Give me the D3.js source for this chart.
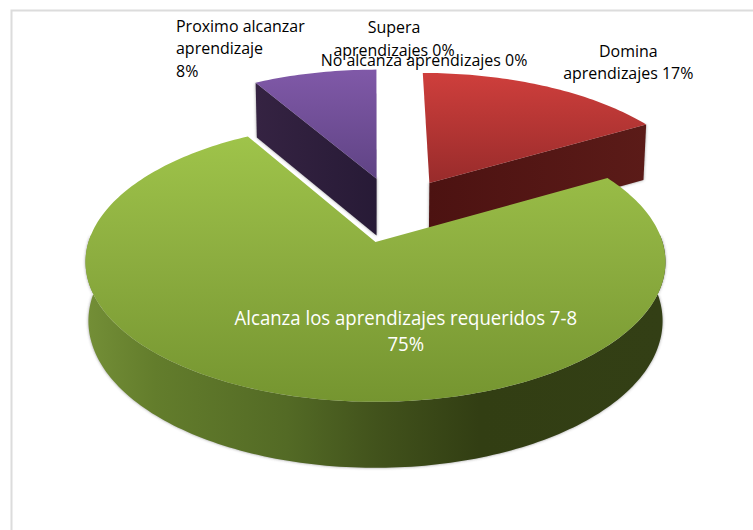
<!DOCTYPE html>
<html><head><meta charset="utf-8">
<script src="https://cdn.jsdelivr.net/npm/d3@7"></script>
<style>html,body{margin:0;padding:0;background:#fff}svg{display:block}</style>
</head><body><div id="chart"></div>
<script>
const categories = ["Domina aprendizajes","Alcanza los aprendizajes requeridos 7-8","Proximo alcanzar aprendizaje","Supera aprendizajes","No alcanza aprendizajes"];
const values = [16.67, 75, 8.33, 0, 0];

const W = 753, H = 530;
const svg = d3.select("#chart").append("svg").attr("width", W).attr("height", H);
const defs = svg.append("defs");

function grad(id, x1, y1, x2, y2, stops){
  const g = defs.append("linearGradient").attr("id", id).attr("gradientUnits","userSpaceOnUse")
    .attr("x1",x1).attr("y1",y1).attr("x2",x2).attr("y2",y2);
  stops.forEach(s => g.append("stop").attr("offset",s[0]).attr("stop-color",s[1]));
}
grad("gTop",0,134,0,402,[[0,"#9fc44a"],[0.45,"#8dae40"],[1,"#759530"]]);
grad("gSide",85,0,664,0,[[0,"#748f37"],[0.12,"#637d2c"],[0.35,"#536a25"],[0.5,"#42531c"],[0.68,"#323e13"],[1,"#333f15"]]);
grad("rTop",0,72,0,190,[[0,"#cf3f3c"],[1,"#952a2a"]]);
grad("rSide",427,0,647,0,[[0,"#4c1211"],[1,"#5b1b18"]]);
grad("pTop",0,69,0,180,[[0,"#8059a8"],[1,"#5f4384"]]);
grad("pSide",255,0,377,0,[[0,"#352342"],[1,"#271a36"]]);
defs.append("filter").attr("id","blur").attr("x","-10%").attr("y","-10%").attr("width","120%").attr("height","120%")
  .append("feGaussianBlur").attr("stdDeviation",1.6);

// frame
svg.append("path").attr("d",`M11.5 ${H}V10.5H${W}`).attr("fill","none").attr("stroke","#dcdcdc").attr("stroke-width",2);

// perspective projection of a unit pie lying on its side
const cx = 375.5, cy = 242, R = 287, B = 137, k = 1/7;
const xS = d3.scaleLinear().domain([-1,1]).range([cx-R,cx+R]);
const yS = d3.scaleLinear().domain([-1,1]).range([cy+B,cy-B]);
function projTop(u,v){ const w=1+k*v; return [xS(u/w), yS(v/w)]; }
function projBottom(u,v){
  const w=1+k*v, Y=yS(v/w)-cy, X=xS(u/w)-cx;
  return [cx+X*0.99, cy+58+Y*(Y>0?1.05:1.02)];
}
const line = d3.line();

const pie = d3.pie().sort(null).value(d=>d)(values);
// per-slice explosion (in pie units) – chart styling
const explode = [
  {u:0.2,v:0.458,su:1.01,sv:1.04},
  {u:0,v:0,su:1,sv:1},
  {u:0.004,v:0.494,su:1.01,sv:1.04}
];
const sliceStyle = [
  {top:"url(#rTop)",side:"url(#rSide)"},
  {top:"url(#gTop)",side:"url(#gSide)"},
  {top:"url(#pTop)",side:"url(#pSide)"}
];
function pt(i,a,r){ const e=explode[i]; return [e.u+e.su*r*Math.sin(a), e.v+e.sv*r*Math.cos(a)]; }
function arcPts(i,a0,a1,proj){
  const n=Math.max(2,Math.ceil((a1-a0)/0.02));
  return d3.range(n+1).map(j=>{ const a=a0+(a1-a0)*j/n, p=pt(i,a,1); return proj(p[0],p[1]); });
}
function topPath(i){
  const d=pie[i]; const ap=pt(i,0,0);
  return line([projTop(ap[0],ap[1]),...arcPts(i,d.startAngle,d.endAngle,projTop)])+"Z";
}
function radialFace(i,a){
  const ap=pt(i,0,0), p=pt(i,a,1);
  return line([projTop(ap[0],ap[1]),projTop(p[0],p[1]),projBottom(p[0],p[1]),projBottom(ap[0],ap[1])])+"Z";
}
function rimPath(i,a0,a1){
  return line([...arcPts(i,a0,a1,projTop),...arcPts(i,a0,a1,projBottom).reverse()])+"Z";
}
const g = svg.append("g");

const shadow = (sel,d)=>sel.append("path").attr("d",d).attr("fill","#555").attr("opacity",.6).attr("filter","url(#blur)");

// Red (0)
shadow(g, radialFace(0,pie[0].endAngle));
g.append("path").attr("d",radialFace(0,pie[0].endAngle)).attr("fill",sliceStyle[0].side);
g.append("path").attr("d",topPath(0)).attr("fill",sliceStyle[0].top);

// Purple (2)
shadow(g, radialFace(2,pie[2].endAngle));
shadow(g, radialFace(2,pie[2].startAngle));
g.append("path").attr("d",radialFace(2,pie[2].endAngle)).attr("fill",sliceStyle[2].side);
g.append("path").attr("d",radialFace(2,pie[2].startAngle)).attr("fill",sliceStyle[2].side);
g.append("path").attr("d",topPath(2)).attr("fill",sliceStyle[2].top);

// Green (1)
const rimD = rimPath(1,Math.PI/2-0.05,Math.PI*1.5+0.05);
shadow(g, rimD);
g.append("path").attr("d",rimD).attr("fill",sliceStyle[1].side);
g.append("path").attr("d",topPath(1)).attr("fill",sliceStyle[1].top);

// labels
const pct = v => Math.round(v)+"%";
const labels = [
  {x:176,y:32,lh:22.5,anchor:"start",fill:"#000",lines:["Proximo alcanzar","aprendizaje",pct(values[2])]},
  {x:394,y:33,lh:23,anchor:"middle",fill:"#000",lines:["Supera","aprendizajes "+pct(values[3])]},
  {x:424,y:66.5,lh:22,anchor:"middle",fill:"#000",lines:["No alcanza aprendizajes "+pct(values[4])]},
  {x:628.3,y:57,lh:22,anchor:"middle",fill:"#000",lines:["Domina","aprendizajes "+pct(values[0])]},
  {x:405.8,y:325,lh:25.7,anchor:"middle",fill:"#fff",size:20,sx:0.93,lines:["Alcanza los aprendizajes requeridos 7-8",pct(values[1])]}
];
labels.forEach(l=>{
  const t=svg.append("text").attr("font-family","'Open Sans',sans-serif").attr("font-size",l.size||17)
    .attr("fill",l.fill).attr("text-anchor",l.anchor)
    .attr("transform",`translate(${l.x},0) scale(${l.sx||0.94},1)`);
  l.lines.forEach((s,i)=>t.append("tspan").attr("x",0).attr("y",l.y+i*l.lh).text(s));
});
</script></body></html>
